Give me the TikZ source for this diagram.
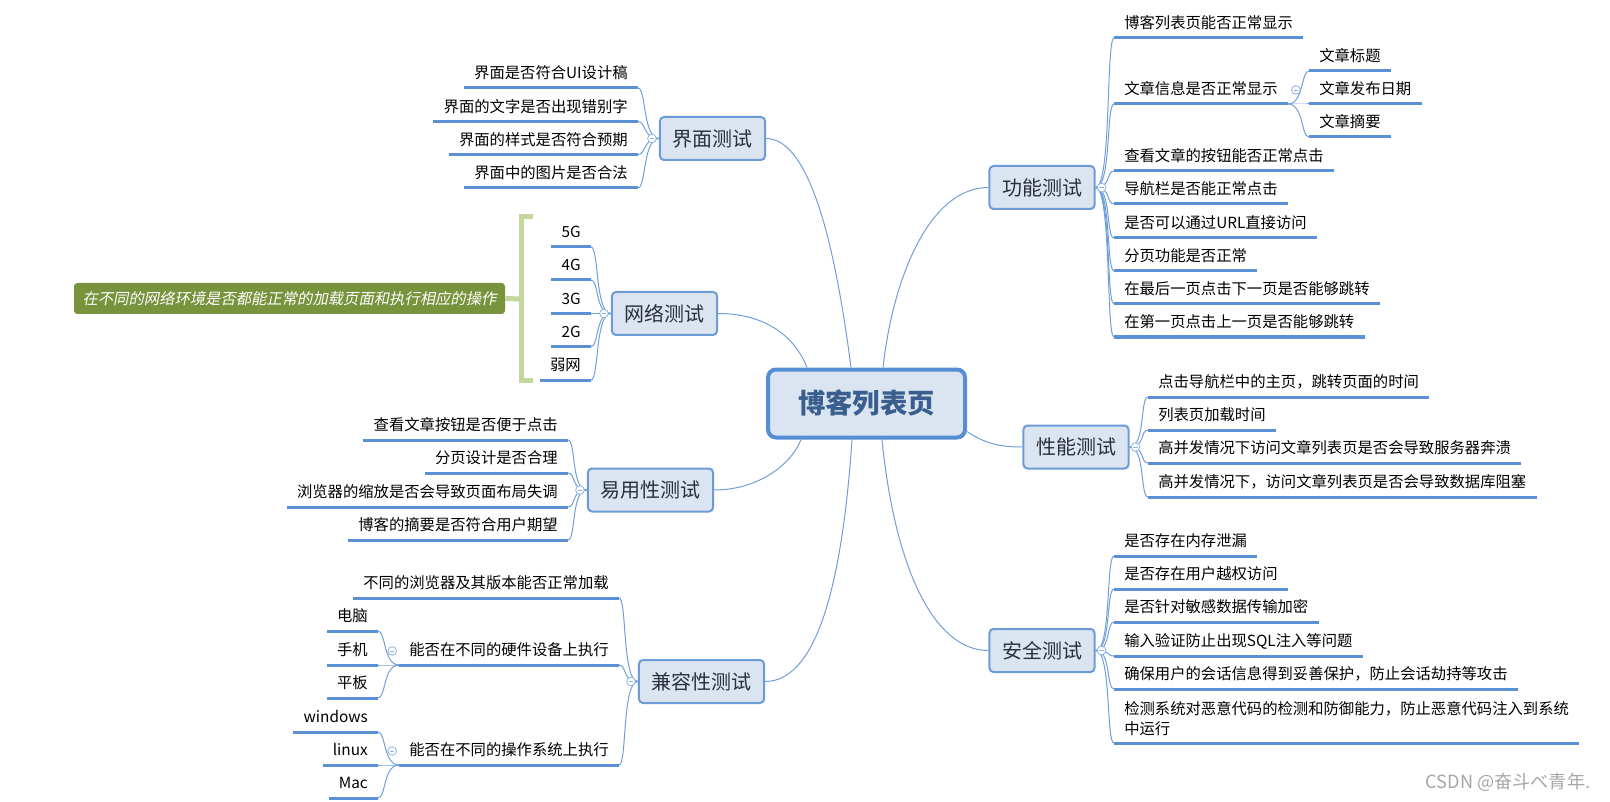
\documentclass[tikz,border=0pt]{standalone}
\usepackage{fontspec}
\setmainfont{Noto Sans CJK SC}
\newfontfamily\cjkit{Noto Sans CJK SC}[FakeSlant=0.2]
\usetikzlibrary{calc}
\definecolor{boxfill}{HTML}{DBE5F1}
\definecolor{boxline}{HTML}{6C9BD7}
\definecolor{cenline}{HTML}{558ED5}
\definecolor{centext}{HTML}{3A5F8E}
\definecolor{ulcol}{HTML}{5B8FD6}
\definecolor{concol}{HTML}{6E9FDB}
\definecolor{circcol}{HTML}{8DB3E2}
\definecolor{brkcol}{HTML}{C3D69B}
\definecolor{gboxcol}{HTML}{77933C}
\definecolor{maintext}{HTML}{2B2F3A}
\newcommand\mmR[4]{\node[leafR] (#1) at (#2,#3) {#4}; \draw[ul] (#1.south west) -- (#1.south east);}
\newcommand\mmL[4]{\node[leafL] (#1) at (#2,#3) {#4}; \draw[ul] (#1.south west) -- (#1.south east);}
\newcommand\conR[2]{\draw[con] (#1) .. controls +(16,0) and +(-8,0) .. (#2.south west);}
\newcommand\conL[2]{\draw[con] (#1) .. controls +(-16,0) and +(8,0) .. (#2.south east);}
\begin{document}
\begin{tikzpicture}[x=0.75pt,y=-0.75pt,
  mainbox/.style={draw=boxline, line width=1.5pt, fill=boxfill, rounded corners=3pt,
    font=\fontsize{15pt}{18pt}\selectfont, text=maintext, inner xsep=9.4pt, inner ysep=0pt,
    minimum height=32.25pt, text height=13.2pt, text depth=1.8pt},
  cenbox/.style={draw=cenline, line width=3pt, fill=boxfill, rounded corners=6pt,
    font=\fontsize{20.5pt}{24pt}\selectfont\bfseries, text=centext,
    minimum width=147.75pt, minimum height=51pt, text height=18pt, text depth=2.5pt},
  leaf/.style={font=\fontsize{11.5pt}{15pt}\selectfont, text=black, inner xsep=7.5pt,
    inner ysep=4.88pt, text height=10pt, text depth=2pt},
  leafR/.style={leaf, anchor=south west},
  leafL/.style={leaf, anchor=south east},
  leaftwo/.style={font=\fontsize{11.5pt}{15pt}\selectfont, text=black, inner xsep=7.5pt,
    inner ysep=5.4pt, align=left, anchor=south west},
  ul/.style={draw=ulcol, line width=2.25pt},
  con/.style={draw=concol, line width=0.75pt},
  circ/.style={circle, draw=circcol, line width=0.6pt, fill=white, minimum size=6.5pt, inner sep=0pt,
    path picture={\draw[circcol, line width=0.6pt] ([xshift=1.6pt]path picture bounding box.west) -- ([xshift=-1.6pt]path picture bounding box.east);}},
  notebox/.style={fill=gboxcol, rounded corners=2.5pt, text=white,
    font=\fontsize{11.5pt}{14pt}\cjkit, minimum width=323.25pt, minimum height=23.25pt,
    inner sep=0pt, text height=9.8pt, text depth=1.5pt},
  brk/.style={draw=brkcol, line width=3.75pt, line join=miter, line cap=butt}
]
\useasboundingbox (0,0) rectangle (1610,802);

% central and main topics
\node[cenbox] (c) at (866.5,403.5) {博客列表页};
\node[mainbox] (jm) at (712.5,138.5) {界面测试};
\node[mainbox] (wl) at (664.5,313.5) {网络测试};
\node[mainbox] (yy) at (650.5,490) {易用性测试};
\node[mainbox] (jr) at (701.5,681.5) {兼容性测试};
\node[mainbox] (gn) at (1042,187.5) {功能测试};
\node[mainbox] (xn) at (1076,447) {性能测试};
\node[mainbox] (aq) at (1042,650.5) {安全测试};

% 功能测试
\mmR{f1}{1114}{38}{博客列表页能否正常显示}
\mmR{f2}{1114}{104}{文章信息是否正常显示}
\mmR{f3}{1114}{171}{查看文章的按钮能否正常点击}
\mmR{f4}{1114}{204}{导航栏是否能正常点击}
\mmR{f5}{1114}{238}{是否可以通过URL直接访问}
\mmR{f6}{1114}{271}{分页功能是否正常}
\mmR{f7}{1114}{304}{在最后一页点击下一页是否能够跳转}
\mmR{f8}{1114}{337}{在第一页点击上一页是否能够跳转}
\mmR{f21}{1309}{71}{文章标题}
\mmR{f22}{1309}{104}{文章发布日期}
\mmR{f23}{1309}{137}{文章摘要}

% 性能测试
\mmR{p1}{1148}{397}{点击导航栏中的主页，跳转页面的时间}
\mmR{p2}{1148}{430}{列表页加载时间}
\mmR{p3}{1148}{463}{高并发情况下访问文章列表页是否会导致服务器奔溃}
\mmR{p4}{1148}{497}{高并发情况下，访问文章列表页是否会导致数据库阻塞}

% 安全测试
\mmR{s1}{1114}{556}{是否存在内存泄漏}
\mmR{s2}{1114}{589}{是否存在用户越权访问}
\mmR{s3}{1114}{622}{是否针对敏感数据传输加密}
\mmR{s4}{1114}{656}{输入验证防止出现SQL注入等问题}
\mmR{s5}{1114}{689}{确保用户的会话信息得到妥善保护，防止会话劫持等攻击}
\node[leaftwo] (s6) at (1114,743) {检测系统对恶意代码的检测和防御能力，防止恶意代码注入到系统\\中运行};
\draw[ul] (s6.south west) -- (s6.south east);

% 界面测试
\mmL{j1}{638}{88}{界面是否符合UI设计稿}
\mmL{j2}{638}{121.5}{界面的文字是否出现错别字}
\mmL{j3}{638}{154.5}{界面的样式是否符合预期}
\mmL{j4}{638}{188}{界面中的图片是否合法}

% 网络测试
\mmL{w1}{591}{247}{5G}
\mmL{w2}{591}{280}{4G}
\mmL{w3}{591}{313.5}{3G}
\mmL{w4}{591}{346.5}{2G}
\mmL{w5}{591}{380}{弱网}

% 易用性测试
\mmL{y1}{568}{440}{查看文章按钮是否便于点击}
\mmL{y2}{568}{473}{分页设计是否合理}
\mmL{y3}{568}{507}{浏览器的缩放是否会导致页面布局失调}
\mmL{y4}{568}{540}{博客的摘要是否符合用户期望}

% 兼容性测试
\mmL{k1}{619}{598}{不同的浏览器及其版本能否正常加载}
\mmL{k2}{619}{665}{能否在不同的硬件设备上执行}
\mmL{k3}{619}{765}{能否在不同的操作系统上执行}
\mmL{k21}{378}{631}{电脑}
\mmL{k22}{378}{665}{手机}
\mmL{k23}{378}{698}{平板}
\mmL{k31}{378}{732}{windows}
\mmL{k32}{378}{765}{linux}
\mmL{k33}{378}{798}{Mac}

% summary bracket and note
\node[notebox] (gb) at (289.5,298.5) {在不同的网络环境是否都能正常的加载页面和执行相应的操作};
\coordinate (bt) at (533,217);
\coordinate (btc) at (521,217);
\coordinate (bbc) at (521,380);
\coordinate (bb) at (533,380);
\coordinate (bm) at (521,299);
\draw[brk] (bt) -- (btc) -- (bbc) -- (bb);
\draw[brk] (bm) -- (gb.east);

% connectors from the centre
\draw[con] ($(c.north west)+(117,0)$) .. controls +(10,-90) and +(-59,0) .. (gn.west);
\draw[con] ($(c.north west)+(85,0)$) .. controls +(-18,-140) and +(40,0) .. (jm.east);
\draw[con] ($(c.north west)+(41,0)$) .. controls +(-14,-35) and +(43,0) .. (wl.east);
\draw[con] ($(c.south west)+(35,0)$) .. controls +(-8,22) and +(47,0) .. (yy.east);
\draw[con] ($(c.south west)+(86,0)$) .. controls +(-9,132) and +(55,0) .. (jr.east);
\draw[con] ($(c.south west)+(116,0)$) .. controls +(12,122) and +(-57,0) .. (aq.west);
\draw[con] ($(c.south east)+(0,-8)$) .. controls +(18,12) and +(-23,0) .. (xn.west);

% branch connectors
\foreach \n in {f1,f2,f3,f4,f5,f6,f7,f8} {\conR{gn.east}{\n}}
\foreach \n in {f21,f22,f23} {\conR{f2.south east}{\n}}
\foreach \n in {p1,p2,p3,p4} {\conR{xn.east}{\n}}
\foreach \n in {s1,s2,s3,s4,s5,s6} {\conR{aq.east}{\n}}
\foreach \n in {j1,j2,j3,j4} {\conL{jm.west}{\n}}
\foreach \n in {w1,w2,w3,w4,w5} {\conL{wl.west}{\n}}
\foreach \n in {y1,y2,y3,y4} {\conL{yy.west}{\n}}
\foreach \n in {k1,k2,k3} {\conL{jr.west}{\n}}
\foreach \n in {k21,k22,k23} {\conL{k2.south west}{\n}}
\foreach \n in {k31,k32,k33} {\conL{k3.south west}{\n}}

% collapse markers
\node[circ] (ogn) at ($(gn.east)+(6,0)$) {};
\node[circ] (oxn) at ($(xn.east)+(6,0)$) {};
\node[circ] (oaq) at ($(aq.east)+(6,0)$) {};
\node[circ] (ojm) at ($(jm.west)+(-7,0)$) {};
\node[circ] (owl) at ($(wl.west)+(-7,0)$) {};
\node[circ] (oyy) at ($(yy.west)+(-7,0)$) {};
\node[circ] (ojr) at ($(jr.west)+(-7,0)$) {};
\node[circ] (of2) at ($(f2.south east)+(8,-14)$) {};
\node[circ] (ok2) at ($(k2.south west)+(-7,-14)$) {};
\node[circ] (ok3) at ($(k3.south west)+(-7,-14)$) {};

% watermark
\node[anchor=east, font=\fontsize{13.6pt}{15pt}\selectfont, text=black!35] (wm) at (1595,782) {CSDN @奋斗べ青年.};
\end{tikzpicture}
\end{document}
